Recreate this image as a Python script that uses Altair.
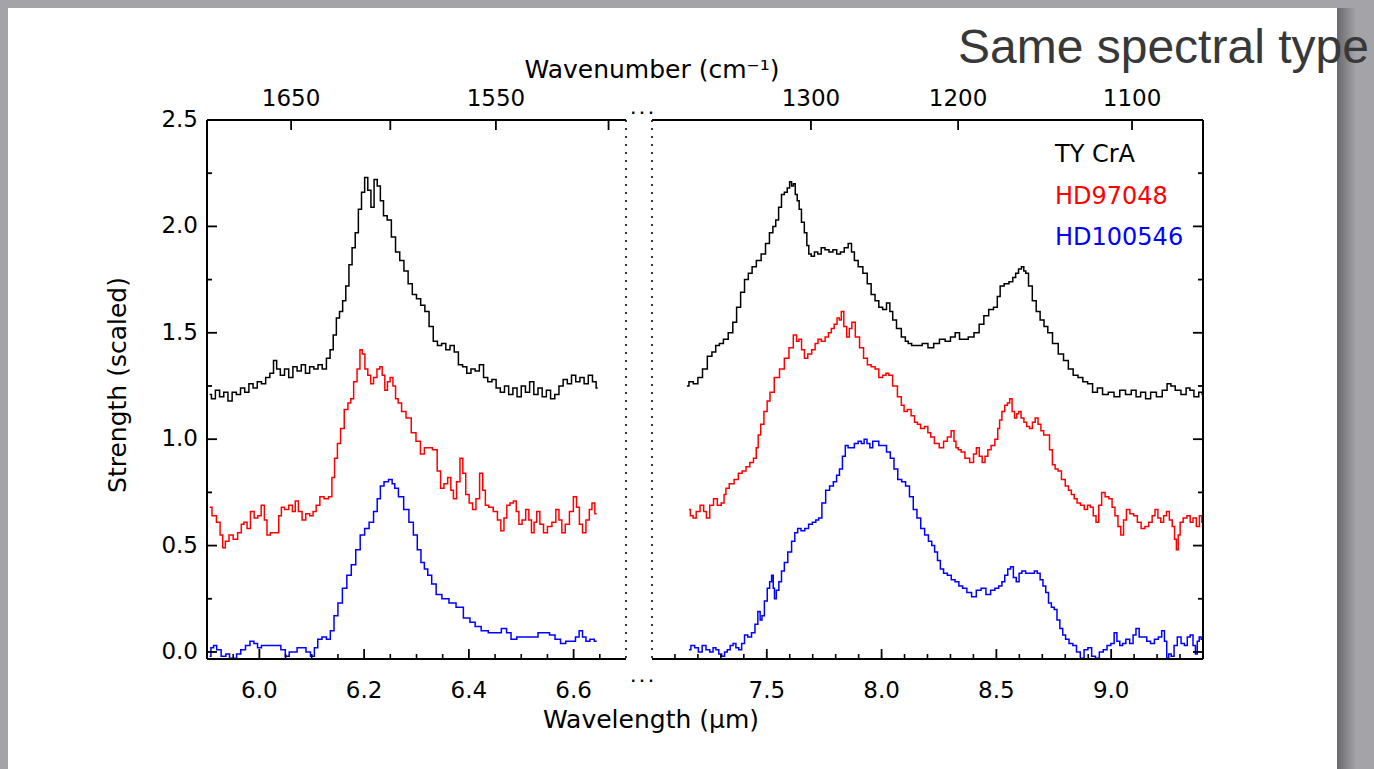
import altair as alt
import pandas as pd

# ---------------- data ----------------
STARS = ["TY CrA", "HD97048", "HD100546"]
COLORS = ["#000000", "#ff0000", "#0000ff"]

# Left panel (6.2 micron band)
L_TY_WL = [5.905, 5.912, 5.92, 5.928, 5.936, 5.944, 5.952, 5.96, 5.968, 5.976, 5.984, 5.992, 6.0, 6.008, 6.016, 6.024, 6.03, 6.036, 6.044, 6.052, 6.06, 6.068, 6.076, 6.084, 6.092, 6.1, 6.108, 6.116, 6.124, 6.132, 6.138, 6.144, 6.15, 6.156, 6.162, 6.168, 6.174, 6.18, 6.186, 6.192, 6.198, 6.204, 6.21, 6.216, 6.222, 6.228, 6.234, 6.24, 6.248, 6.256, 6.264, 6.272, 6.28, 6.288, 6.296, 6.304, 6.312, 6.32, 6.328, 6.336, 6.344, 6.352, 6.36, 6.368, 6.376, 6.384, 6.392, 6.4, 6.408, 6.416, 6.424, 6.432, 6.44, 6.448, 6.456, 6.464, 6.472, 6.48, 6.488, 6.496, 6.504, 6.512, 6.52, 6.528, 6.536, 6.544, 6.552, 6.56, 6.568, 6.576, 6.584, 6.592, 6.6, 6.608, 6.616, 6.624, 6.632, 6.64, 6.646]
L_TY_S = [1.21, 1.19, 1.23, 1.20, 1.22, 1.18, 1.22, 1.21, 1.24, 1.22, 1.26, 1.24, 1.27, 1.26, 1.29, 1.31, 1.37, 1.33, 1.30, 1.33, 1.29, 1.34, 1.32, 1.35, 1.31, 1.34, 1.33, 1.35, 1.33, 1.38, 1.42, 1.49, 1.57, 1.60, 1.65, 1.72, 1.82, 1.90, 1.97, 2.08, 2.16, 2.23, 2.17, 2.09, 2.22, 2.19, 2.12, 2.05, 2.03, 1.95, 1.88, 1.84, 1.79, 1.73, 1.68, 1.66, 1.63, 1.60, 1.53, 1.46, 1.44, 1.45, 1.42, 1.44, 1.41, 1.35, 1.34, 1.31, 1.33, 1.32, 1.35, 1.29, 1.27, 1.28, 1.24, 1.22, 1.25, 1.21, 1.24, 1.20, 1.25, 1.22, 1.27, 1.21, 1.24, 1.20, 1.23, 1.19, 1.21, 1.25, 1.28, 1.26, 1.30, 1.27, 1.29, 1.26, 1.30, 1.27, 1.24]

L_HD97_WL = [5.905, 5.914, 5.922, 5.928, 5.932, 5.938, 5.946, 5.954, 5.963, 5.968, 5.973, 5.98, 5.986, 5.994, 6.0, 6.007, 6.012, 6.017, 6.025, 6.034, 6.04, 6.044, 6.052, 6.06, 6.066, 6.071, 6.078, 6.085, 6.092, 6.1, 6.105, 6.112, 6.119, 6.128, 6.136, 6.141, 6.146, 6.152, 6.158, 6.166, 6.172, 6.177, 6.183, 6.19, 6.194, 6.199, 6.204, 6.21, 6.215, 6.221, 6.228, 6.232, 6.237, 6.242, 6.247, 6.252, 6.258, 6.262, 6.268, 6.275, 6.285, 6.295, 6.303, 6.312, 6.318, 6.325, 6.336, 6.343, 6.349, 6.356, 6.363, 6.368, 6.373, 6.38, 6.386, 6.391, 6.397, 6.404, 6.41, 6.417, 6.424, 6.429, 6.434, 6.442, 6.451, 6.458, 6.464, 6.47, 6.475, 6.482, 6.488, 6.493, 6.498, 6.505, 6.512, 6.517, 6.522, 6.527, 6.532, 6.539, 6.546, 6.554, 6.563, 6.569, 6.575, 6.58, 6.588, 6.596, 6.603, 6.608, 6.614, 6.62, 6.627, 6.633, 6.637, 6.644]
L_HD97_S = [0.68, 0.64, 0.61, 0.55, 0.49, 0.52, 0.55, 0.53, 0.56, 0.60, 0.61, 0.58, 0.66, 0.63, 0.64, 0.69, 0.62, 0.55, 0.56, 0.56, 0.64, 0.68, 0.67, 0.69, 0.66, 0.71, 0.66, 0.62, 0.65, 0.64, 0.66, 0.69, 0.73, 0.72, 0.73, 0.82, 0.91, 0.98, 1.05, 1.14, 1.17, 1.19, 1.27, 1.33, 1.42, 1.40, 1.33, 1.30, 1.26, 1.29, 1.33, 1.34, 1.30, 1.23, 1.27, 1.29, 1.25, 1.19, 1.17, 1.13, 1.10, 1.03, 0.99, 0.93, 0.96, 0.96, 0.95, 0.85, 0.77, 0.79, 0.82, 0.76, 0.72, 0.80, 0.91, 0.84, 0.74, 0.70, 0.67, 0.72, 0.84, 0.76, 0.69, 0.68, 0.66, 0.62, 0.57, 0.63, 0.69, 0.70, 0.71, 0.66, 0.60, 0.62, 0.67, 0.62, 0.56, 0.61, 0.66, 0.60, 0.56, 0.59, 0.61, 0.67, 0.62, 0.56, 0.60, 0.66, 0.73, 0.68, 0.60, 0.56, 0.62, 0.67, 0.70, 0.65]

L_HD10_WL = [5.905, 5.91, 5.915, 5.922, 5.932, 5.94, 5.946, 5.953, 5.96, 5.969, 5.978, 5.986, 5.993, 6.0, 6.008, 6.017, 6.027, 6.037, 6.045, 6.054, 6.06, 6.068, 6.076, 6.085, 6.093, 6.102, 6.108, 6.115, 6.124, 6.132, 6.139, 6.146, 6.154, 6.163, 6.171, 6.18, 6.188, 6.197, 6.205, 6.214, 6.222, 6.228, 6.234, 6.242, 6.251, 6.256, 6.261, 6.27, 6.281, 6.29, 6.298, 6.305, 6.312, 6.318, 6.325, 6.333, 6.342, 6.355, 6.369, 6.382, 6.397, 6.407, 6.417, 6.43, 6.444, 6.456, 6.468, 6.476, 6.485, 6.498, 6.512, 6.525, 6.539, 6.549, 6.559, 6.57, 6.58, 6.59, 6.6, 6.607, 6.614, 6.62, 6.627, 6.635, 6.644]
L_HD10_S = [-0.02, 0.02, 0.03, 0.01, -0.02, -0.01, -0.03, -0.03, -0.01, 0.01, 0.03, 0.05, 0.04, 0.02, 0.03, 0.03, 0.03, 0.03, 0.01, -0.02, 0.00, 0.00, 0.02, 0.02, 0.00, -0.02, 0.02, 0.06, 0.07, 0.06, 0.10, 0.17, 0.23, 0.30, 0.36, 0.41, 0.48, 0.55, 0.58, 0.61, 0.66, 0.72, 0.78, 0.80, 0.81, 0.79, 0.77, 0.73, 0.67, 0.61, 0.55, 0.48, 0.42, 0.39, 0.36, 0.32, 0.27, 0.25, 0.23, 0.21, 0.16, 0.14, 0.12, 0.10, 0.09, 0.09, 0.11, 0.09, 0.06, 0.07, 0.07, 0.07, 0.09, 0.09, 0.08, 0.06, 0.04, 0.05, 0.05, 0.07, 0.10, 0.07, 0.05, 0.06, 0.05]

# Right panel (7.7 / 8.6 micron bands)
R_TY_WL = [7.152, 7.17, 7.19, 7.21, 7.23, 7.252, 7.27, 7.285, 7.302, 7.32, 7.344, 7.36, 7.377, 7.395, 7.411, 7.428, 7.444, 7.465, 7.486, 7.503, 7.52, 7.533, 7.545, 7.558, 7.57, 7.583, 7.595, 7.604, 7.612, 7.62, 7.628, 7.637, 7.645, 7.657, 7.67, 7.679, 7.687, 7.7, 7.715, 7.729, 7.745, 7.762, 7.78, 7.796, 7.813, 7.829, 7.846, 7.863, 7.875, 7.888, 7.908, 7.929, 7.946, 7.963, 7.98, 7.996, 8.013, 8.03, 8.042, 8.055, 8.075, 8.097, 8.11, 8.122, 8.14, 8.164, 8.19, 8.214, 8.24, 8.264, 8.29, 8.31, 8.331, 8.348, 8.365, 8.39, 8.415, 8.435, 8.456, 8.477, 8.498, 8.51, 8.523, 8.545, 8.565, 8.578, 8.59, 8.603, 8.615, 8.624, 8.632, 8.648, 8.665, 8.682, 8.699, 8.716, 8.732, 8.757, 8.782, 8.803, 8.824, 8.845, 8.866, 8.887, 8.908, 8.93, 8.95, 8.975, 9.0, 9.025, 9.05, 9.075, 9.1, 9.117, 9.14, 9.16, 9.184, 9.21, 9.235, 9.252, 9.268, 9.29, 9.318, 9.335, 9.351, 9.37, 9.393, 9.4]
R_TY_S = [1.25, 1.27, 1.26, 1.29, 1.33, 1.39, 1.41, 1.44, 1.45, 1.47, 1.50, 1.55, 1.62, 1.69, 1.75, 1.78, 1.81, 1.84, 1.87, 1.92, 1.97, 2.00, 2.03, 2.09, 2.15, 2.16, 2.18, 2.21, 2.19, 2.20, 2.15, 2.12, 2.08, 2.02, 1.97, 1.91, 1.87, 1.86, 1.88, 1.87, 1.90, 1.89, 1.88, 1.89, 1.87, 1.88, 1.90, 1.92, 1.88, 1.84, 1.81, 1.78, 1.73, 1.68, 1.65, 1.62, 1.61, 1.64, 1.60, 1.56, 1.52, 1.48, 1.46, 1.45, 1.44, 1.44, 1.45, 1.43, 1.45, 1.47, 1.46, 1.48, 1.50, 1.47, 1.47, 1.48, 1.50, 1.54, 1.58, 1.61, 1.62, 1.67, 1.72, 1.73, 1.74, 1.76, 1.78, 1.80, 1.81, 1.79, 1.78, 1.72, 1.65, 1.60, 1.56, 1.53, 1.50, 1.45, 1.40, 1.37, 1.33, 1.30, 1.29, 1.27, 1.26, 1.22, 1.24, 1.21, 1.22, 1.20, 1.23, 1.21, 1.23, 1.20, 1.22, 1.19, 1.22, 1.20, 1.23, 1.26, 1.25, 1.23, 1.21, 1.24, 1.23, 1.20, 1.22, 1.21]

R_HD97_WL = [7.161, 7.173, 7.185, 7.2, 7.219, 7.231, 7.243, 7.26, 7.276, 7.293, 7.31, 7.318, 7.326, 7.347, 7.368, 7.384, 7.401, 7.418, 7.434, 7.45, 7.458, 7.467, 7.48, 7.495, 7.508, 7.52, 7.545, 7.566, 7.587, 7.606, 7.625, 7.635, 7.645, 7.658, 7.67, 7.687, 7.704, 7.717, 7.729, 7.746, 7.762, 7.775, 7.787, 7.8, 7.812, 7.82, 7.829, 7.842, 7.854, 7.865, 7.876, 7.895, 7.913, 7.93, 7.946, 7.963, 7.98, 7.996, 8.013, 8.025, 8.038, 8.058, 8.08, 8.092, 8.104, 8.12, 8.137, 8.15, 8.162, 8.178, 8.195, 8.208, 8.22, 8.24, 8.262, 8.278, 8.295, 8.311, 8.32, 8.328, 8.34, 8.353, 8.373, 8.394, 8.407, 8.419, 8.432, 8.444, 8.457, 8.469, 8.485, 8.502, 8.51, 8.518, 8.53, 8.543, 8.553, 8.563, 8.574, 8.584, 8.593, 8.601, 8.614, 8.626, 8.638, 8.651, 8.663, 8.675, 8.688, 8.7, 8.712, 8.725, 8.738, 8.75, 8.762, 8.775, 8.792, 8.808, 8.82, 8.833, 8.845, 8.858, 8.875, 8.891, 8.903, 8.916, 8.928, 8.94, 8.952, 8.965, 8.982, 8.998, 9.01, 9.023, 9.036, 9.048, 9.06, 9.073, 9.09, 9.106, 9.122, 9.139, 9.155, 9.172, 9.185, 9.197, 9.21, 9.222, 9.235, 9.247, 9.26, 9.272, 9.28, 9.288, 9.296, 9.305, 9.322, 9.338, 9.35, 9.363, 9.379, 9.39, 9.4]
R_HD97_S = [0.67, 0.64, 0.63, 0.66, 0.69, 0.66, 0.63, 0.69, 0.72, 0.69, 0.70, 0.74, 0.77, 0.79, 0.81, 0.84, 0.85, 0.87, 0.89, 0.91, 0.96, 1.02, 1.07, 1.13, 1.18, 1.22, 1.29, 1.33, 1.38, 1.43, 1.49, 1.46, 1.47, 1.42, 1.38, 1.40, 1.42, 1.45, 1.47, 1.46, 1.48, 1.50, 1.52, 1.54, 1.57, 1.56, 1.60, 1.53, 1.48, 1.52, 1.55, 1.48, 1.43, 1.38, 1.35, 1.34, 1.33, 1.29, 1.30, 1.31, 1.30, 1.25, 1.20, 1.16, 1.13, 1.14, 1.11, 1.08, 1.07, 1.05, 1.06, 1.03, 1.01, 0.98, 0.96, 0.99, 1.01, 1.04, 0.99, 0.96, 0.95, 0.94, 0.91, 0.89, 0.93, 0.96, 0.92, 0.89, 0.92, 0.95, 0.97, 1.00, 1.05, 1.09, 1.13, 1.16, 1.17, 1.19, 1.13, 1.10, 1.12, 1.13, 1.10, 1.08, 1.06, 1.05, 1.08, 1.10, 1.07, 1.04, 1.02, 1.02, 0.95, 0.88, 0.86, 0.85, 0.81, 0.78, 0.76, 0.74, 0.72, 0.70, 0.69, 0.67, 0.69, 0.68, 0.64, 0.61, 0.69, 0.75, 0.73, 0.72, 0.68, 0.64, 0.59, 0.55, 0.62, 0.67, 0.65, 0.64, 0.61, 0.58, 0.59, 0.61, 0.64, 0.67, 0.63, 0.61, 0.64, 0.66, 0.62, 0.59, 0.53, 0.48, 0.55, 0.61, 0.63, 0.64, 0.61, 0.63, 0.59, 0.64, 0.61]

R_HD10_WL = [7.161, 7.178, 7.194, 7.21, 7.227, 7.243, 7.26, 7.272, 7.285, 7.297, 7.31, 7.322, 7.334, 7.347, 7.359, 7.372, 7.384, 7.397, 7.409, 7.425, 7.442, 7.455, 7.467, 7.475, 7.483, 7.496, 7.508, 7.517, 7.525, 7.531, 7.536, 7.547, 7.558, 7.57, 7.583, 7.6, 7.616, 7.628, 7.641, 7.657, 7.674, 7.69, 7.707, 7.72, 7.732, 7.748, 7.765, 7.782, 7.798, 7.81, 7.823, 7.836, 7.848, 7.86, 7.873, 7.89, 7.906, 7.918, 7.93, 7.943, 7.955, 7.968, 7.98, 7.996, 8.013, 8.03, 8.046, 8.062, 8.079, 8.096, 8.113, 8.13, 8.146, 8.162, 8.179, 8.196, 8.212, 8.225, 8.237, 8.25, 8.262, 8.278, 8.295, 8.312, 8.328, 8.345, 8.361, 8.382, 8.402, 8.423, 8.444, 8.465, 8.485, 8.502, 8.518, 8.53, 8.543, 8.556, 8.568, 8.58, 8.593, 8.605, 8.617, 8.638, 8.659, 8.672, 8.684, 8.697, 8.709, 8.721, 8.733, 8.746, 8.758, 8.77, 8.783, 8.795, 8.808, 8.825, 8.841, 8.857, 8.874, 8.89, 8.907, 8.923, 8.94, 8.957, 8.974, 8.99, 9.007, 9.019, 9.031, 9.044, 9.056, 9.072, 9.089, 9.102, 9.114, 9.13, 9.147, 9.163, 9.18, 9.197, 9.214, 9.226, 9.238, 9.246, 9.255, 9.268, 9.28, 9.296, 9.313, 9.325, 9.338, 9.35, 9.363, 9.371, 9.379, 9.388, 9.396, 9.4]
R_HD10_S = [0.01, 0.03, 0.02, 0.00, 0.03, 0.01, 0.00, 0.02, 0.01, -0.01, -0.02, 0.00, 0.01, 0.03, 0.04, 0.02, 0.01, 0.04, 0.08, 0.07, 0.09, 0.13, 0.19, 0.15, 0.17, 0.24, 0.30, 0.33, 0.36, 0.30, 0.25, 0.29, 0.33, 0.38, 0.42, 0.47, 0.52, 0.56, 0.58, 0.57, 0.58, 0.60, 0.61, 0.62, 0.63, 0.70, 0.76, 0.78, 0.80, 0.83, 0.86, 0.92, 0.97, 0.96, 0.96, 0.98, 0.99, 0.98, 1.00, 0.98, 0.96, 0.99, 0.99, 0.97, 0.97, 0.94, 0.91, 0.86, 0.81, 0.80, 0.78, 0.73, 0.67, 0.63, 0.58, 0.55, 0.52, 0.50, 0.47, 0.43, 0.39, 0.37, 0.36, 0.34, 0.33, 0.31, 0.30, 0.28, 0.26, 0.29, 0.30, 0.27, 0.29, 0.30, 0.31, 0.33, 0.36, 0.39, 0.40, 0.35, 0.33, 0.37, 0.38, 0.37, 0.37, 0.38, 0.37, 0.34, 0.31, 0.28, 0.23, 0.21, 0.20, 0.15, 0.11, 0.08, 0.06, 0.04, 0.03, 0.00, -0.03, 0.01, 0.02, -0.02, -0.03, 0.00, 0.01, 0.03, 0.04, 0.09, 0.05, 0.03, 0.04, 0.06, 0.04, 0.08, 0.11, 0.07, 0.07, 0.05, 0.04, 0.06, 0.07, 0.10, 0.05, -0.03, -0.01, -0.02, 0.03, 0.07, 0.04, 0.03, 0.07, 0.08, 0.03, -0.01, 0.05, 0.07, 0.06]

# axis ticks and labels
L_XMAJOR = [6.0, 6.2, 6.4, 6.6]
L_XMINOR = [5.95, 6.05, 6.1, 6.15, 6.25, 6.3, 6.35, 6.45, 6.5, 6.55, 6.65]
R_XMAJOR = [7.5, 8.0, 8.5, 9.0]
R_XMINOR = [7.1, 7.2, 7.3, 7.4, 7.6, 7.7, 7.8, 7.9, 8.1, 8.2, 8.3, 8.4, 8.6, 8.7, 8.8, 8.9, 9.1, 9.2, 9.3]
Y_MAJOR = [0.0, 0.5, 1.0, 1.5, 2.0, 2.5]
Y_MINOR = [0.25, 0.75, 1.25, 1.75, 2.25]
L_WN_LABELED = [1650, 1550]
L_WN_TICKS = [1650, 1600, 1550, 1500]
R_WN_LABELED = [1300, 1200, 1100]

L_DOMAIN = [5.9, 6.7]
R_DOMAIN = [7.0, 9.4]
Y_DOMAIN = [-0.033, 2.5]

# ---------------- layout constants (pixels) ----------------
W, H = 996, 539
PADL, PADT = 207, 120
L_RANGE = [0, 419]
R_RANGE = [445, 996]
FONT = "DejaVu Sans"
LBL = 23
TTL = 25


def series_df(pairs):
    rows = []
    for star, wl, s in pairs:
        for a, b in zip(wl, s):
            rows.append({"wl": a, "s": b, "star": star})
    return pd.DataFrame(rows)


left_df = series_df([(STARS[0], L_TY_WL, L_TY_S), (STARS[1], L_HD97_WL, L_HD97_S), (STARS[2], L_HD10_WL, L_HD10_S)])
right_df = series_df([(STARS[0], R_TY_WL, R_TY_S), (STARS[1], R_HD97_WL, R_HD97_S), (STARS[2], R_HD10_WL, R_HD10_S)])

yscale = alt.Scale(domain=Y_DOMAIN, nice=False, zero=False)
xL = alt.Scale(domain=L_DOMAIN, range=L_RANGE, nice=False, zero=False)
xR = alt.Scale(domain=R_DOMAIN, range=R_RANGE, nice=False, zero=False)
color = alt.Color("star:N", scale=alt.Scale(domain=STARS, range=COLORS), legend=None)


def panel(df, xs, domain, xmajor, xminor, wn_ticks, wn_labels, left):
    lines = alt.Chart(df).mark_line(strokeWidth=1.5, interpolate="step").encode(
        x=alt.X("wl:Q", scale=xs, axis=None),
        y=alt.Y("s:Q", scale=yscale, axis=None),
        color=color, detail="star:N")
    # bottom axis line, inward ticks and labels
    bottom_line = alt.Chart().mark_rule(color="black", strokeWidth=2).encode(
        x=alt.X(datum=domain[0], scale=xs, axis=None), x2=alt.X2(datum=domain[1]), y=alt.value(H))
    major = alt.Chart(pd.DataFrame({"v": xmajor})).mark_rule(color="black", strokeWidth=1.8).encode(
        x=alt.X("v:Q", scale=xs, axis=None), y=alt.value(H - 10), y2=alt.value(H))
    minor = alt.Chart(pd.DataFrame({"v": xminor})).mark_rule(color="black", strokeWidth=1.6).encode(
        x=alt.X("v:Q", scale=xs, axis=None), y=alt.value(H - 5), y2=alt.value(H))
    bottom_labels = alt.Chart(pd.DataFrame({"v": xmajor})).mark_text(
        font=FONT, fontSize=LBL, color="black", baseline="middle").encode(
        x=alt.X("v:Q", scale=xs, axis=None), y=alt.value(H + 32), text=alt.Text("v:Q", format=".1f"))
    # top (wavenumber) axis
    wn = pd.DataFrame({"wn": wn_ticks})
    top_ticks = alt.Chart(wn).transform_calculate(wl="10000 / datum.wn").mark_rule(
        color="black", strokeWidth=1.8).encode(
        x=alt.X("wl:Q", scale=xs, axis=None), y=alt.value(0), y2=alt.value(10))
    top_labels = alt.Chart(pd.DataFrame({"wn": wn_labels})).transform_calculate(
        wl="10000 / datum.wn").mark_text(font=FONT, fontSize=LBL, color="black", baseline="middle").encode(
        x=alt.X("wl:Q", scale=xs, axis=None), y=alt.value(-21), text=alt.Text("wn:Q", format="d"))
    top_line = alt.Chart().mark_rule(color="black", strokeWidth=2).encode(
        x=alt.X(datum=domain[0], scale=xs, axis=None), x2=alt.X2(datum=domain[1]), y=alt.value(0))
    # broken-axis dotted edge, solid outer edge
    dotted_at = domain[1] if left else domain[0]
    solid_at = domain[0] if left else domain[1]
    dotted = alt.Chart().mark_rule(color="#222222", strokeWidth=1.8, strokeDash=[2, 6]).encode(
        x=alt.X(datum=dotted_at, scale=xs, axis=None), y=alt.value(0), y2=alt.value(H))
    solid = alt.Chart().mark_rule(color="black", strokeWidth=2).encode(
        x=alt.X(datum=solid_at, scale=xs, axis=None), y=alt.value(0), y2=alt.value(H))
    return alt.layer(lines, bottom_line, major, minor, bottom_labels, top_ticks, top_labels,
                     top_line, dotted, solid)


left_panel = panel(left_df, xL, L_DOMAIN, L_XMAJOR, L_XMINOR, L_WN_TICKS, L_WN_LABELED, True)
right_panel = panel(right_df, xR, R_DOMAIN, R_XMAJOR, R_XMINOR, R_WN_LABELED, R_WN_LABELED, False)

# y ticks (inward) on the left axis and on the right panel's right axis, plus labels
ymaj = pd.DataFrame({"v": Y_MAJOR})
ymin = pd.DataFrame({"v": Y_MINOR})
yt = []
for x0, x1, df in [(0, 10, ymaj), (0, 5, ymin), (W, W - 10, ymaj), (W, W - 5, ymin)]:
    yt.append(alt.Chart(df).mark_rule(color="black", strokeWidth=1.8).encode(
        y=alt.Y("v:Q", scale=yscale, axis=None), x=alt.value(x0), x2=alt.value(x1)))
yt.append(alt.Chart(ymaj).mark_text(font=FONT, fontSize=LBL, color="black", align="right",
                                     baseline="middle").encode(
    y=alt.Y("v:Q", scale=yscale, axis=None), x=alt.value(-9), text=alt.Text("v:Q", format=".1f")))

# slide frame (grey surround + shadow); the slide itself is the white background
GREY = "#a3a3a8"
top_strip = alt.Chart().mark_rect(color=GREY).encode(
    x=alt.value(-PADL), x2=alt.value(1374 - PADL), y=alt.value(-PADT), y2=alt.value(8 - PADT))
left_strip = alt.Chart().mark_rect(color=GREY).encode(
    x=alt.value(-PADL), x2=alt.value(8 - PADL), y=alt.value(-PADT), y2=alt.value(769 - PADT))
right_strip = alt.Chart().mark_rect(color=GREY).encode(
    x=alt.value(1337 - PADL), x2=alt.value(1374 - PADL), y=alt.value(-PADT), y2=alt.value(769 - PADT))
shadow = alt.Chart().mark_rect(
    color=alt.LinearGradient(gradient="linear", x1=0, x2=1, y1=0, y2=0,
                             stops=[alt.GradientStop(color="#68686d", offset=0),
                                    alt.GradientStop(color=GREY, offset=1)])).encode(
    x=alt.value(1337 - PADL), x2=alt.value(1356 - PADL), y=alt.value(8 - PADT), y2=alt.value(769 - PADT))


def label(text, x, y, size=LBL, col="black", align="center", baseline="middle", angle=0, font=FONT, weight="normal"):
    return alt.Chart().mark_text(text=text, font=font, fontSize=size, color=col, align=align,
                                 baseline=baseline, angle=angle, fontWeight=weight).encode(
        x=alt.value(x), y=alt.value(y))


texts = [
    label("Same spectral type", 958 - PADL, 63 - PADT, size=48, col="#383838", align="left",
          baseline="alphabetic", font="Liberation Sans"),
    label("Wavenumber (cm\u207b\u00b9)", 652 - PADL, 70 - PADT, size=TTL),
    label("Wavelength (\u03bcm)", 651 - PADL, 720 - PADT, size=TTL),
    label("Strength (scaled)", 118 - PADL, 385 - PADT, size=TTL, angle=270),
    label("TY CrA", 1055 - PADL, 155 - PADT, size=24, align="left"),
    label("HD97048", 1055 - PADL, 197 - PADT, size=24, col="#ff0000", align="left"),
    label("HD100546", 1055 - PADL, 238 - PADT, size=24, col="#0000ff", align="left"),
    label(". . .", 642 - PADL, 114 - PADT, size=16, baseline="alphabetic", font="Liberation Sans", weight="bold"),
    label(". . .", 642 - PADL, 682 - PADT, size=16, baseline="alphabetic", font="Liberation Sans", weight="bold"),
]

chart = alt.layer(top_strip, left_strip, right_strip, shadow, left_panel, right_panel, *yt, *texts).resolve_scale(
    x="independent").properties(
    width=W, height=H,
    padding={"left": PADL, "top": PADT, "right": 1374 - PADL - W, "bottom": 769 - PADT - H},
    autosize=alt.AutoSizeParams(type="none"),
    background="white",
).configure_view(stroke=None)

chart.save("out.html", embed_options={"renderer": "svg", "actions": False})
